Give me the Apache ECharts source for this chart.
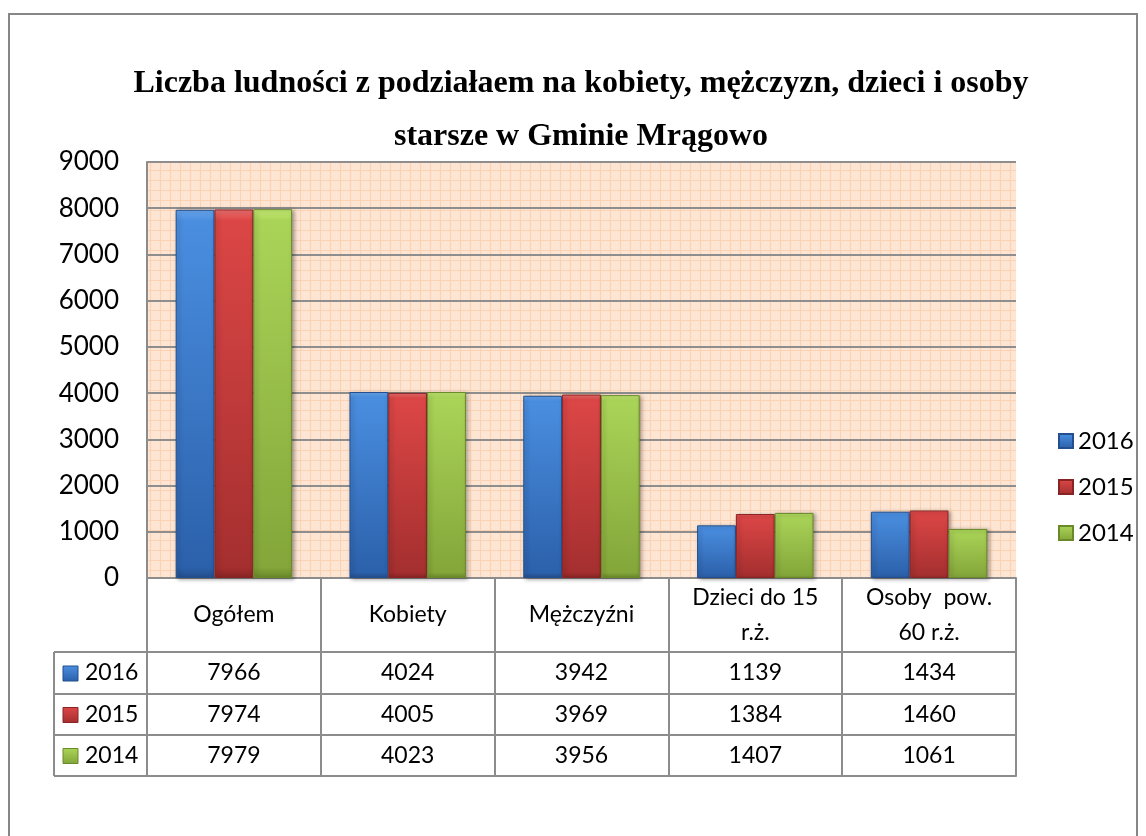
<!DOCTYPE html>
<html><head><meta charset="utf-8">
<script src="https://cdn.jsdelivr.net/npm/echarts@6/dist/echarts.min.js"></script>
<style>html,body{margin:0;padding:0;background:#fff}#c{width:1146px;height:836px}</style>
</head><body><div id="c"></div>
<script>
var categories = ['Ogółem', 'Kobiety', 'Mężczyźni', 'Dzieci do 15\nr.ż.', 'Osoby  pow.\n60 r.ż.'];
var seriesNames = ['2016', '2015', '2014'];
var values2016 = [7966, 4024, 3942, 1139, 1434];
var values2015 = [7974, 4005, 3969, 1384, 1460];
var values2014 = [7979, 4023, 3956, 1407, 1061];
var yTicks = { min: 0, max: 9000, interval: 1000 };

var seriesValues = [values2016, values2015, values2014];
var palette = [
  { top: '#4a8ee0', bot: '#2c61ab', edge: '#234f8e', light: '#6aa8f0' },
  { top: '#dc4646', bot: '#a52f2f', edge: '#8a2424', light: '#ee7070' },
  { top: '#aad458', bot: '#84a63a', edge: '#6a8a2a', light: '#c6ec74' }
];
var FONT = 'Lato';
var GL = 147, GR = 1016, GT = 162, GB = 578;
var HEADER = 74, ROWS = [42, 41, 41];
var LINE = '#8c8c8c';

// background pattern
var pc = document.createElement('canvas');
pc.width = 10; pc.height = 10;
var g = pc.getContext('2d');
g.fillStyle = '#fde4d1'; g.fillRect(0, 0, 10, 10);
g.fillStyle = '#fee9da';
for (var i = 0; i < 10; i += 2) for (var j = (i / 2) % 2; j < 10; j += 2) g.fillRect(i, j, 1, 1);
g.fillStyle = '#fbd3b4';
g.fillRect(0, 0, 10, 1); g.fillRect(0, 0, 1, 10);

function vgrad(p) {
  return new echarts.graphic.LinearGradient(0, 0, 0, 1, [
    { offset: 0, color: p.light }, { offset: 0.03, color: p.top }, { offset: 0.97, color: p.bot }, { offset: 1, color: p.edge }
  ]);
}

var chart = echarts.init(document.getElementById('c'), null, { renderer: 'canvas' });

var offsets = [HEADER, HEADER + ROWS[0], HEADER + ROWS[0] + ROWS[1]];
var xAxes = [{
  type: 'category', data: categories, gridIndex: 0, position: 'bottom',
  axisLine: { show: true, lineStyle: { color: LINE, width: 2 } },
  axisTick: { show: true, interval: 0, length: HEADER, lineStyle: { color: LINE, width: 2 } },
  axisLabel: { interval: 0, margin: HEADER / 2, verticalAlign: 'middle', color: '#000', fontFamily: FONT, fontSize: 23, lineHeight: 35 },
  splitLine: { show: false }
}];
seriesValues.forEach(function (vals, k) {
  xAxes.push({
    type: 'category', data: vals.map(String), gridIndex: 0, position: 'bottom', offset: offsets[k],
    axisLine: { show: true, lineStyle: { color: LINE, width: 2 } },
    axisTick: { show: true, interval: 0, length: ROWS[k], lineStyle: { color: LINE, width: 2 } },
    axisLabel: { interval: 0, margin: ROWS[k] / 2, verticalAlign: 'middle', color: '#000', fontFamily: FONT, fontSize: 23 },
    splitLine: { show: false }
  });
});
xAxes.push({
  type: 'category', data: categories, gridIndex: 0, position: 'bottom', offset: HEADER + ROWS[0] + ROWS[1] + ROWS[2],
  axisLine: { show: true, lineStyle: { color: LINE, width: 2 } },
  axisTick: { show: false }, axisLabel: { show: false }, splitLine: { show: false }
});

var graphics = [
  { type: 'rect', shape: { x: 9, y: 14, width: 1128, height: 900 }, style: { fill: 'none', stroke: '#878787', lineWidth: 2 }, silent: true }
];
var LC = 54;
var yy = GB + HEADER;
graphics.push({ type: 'line', shape: { x1: LC, y1: yy, x2: GL, y2: yy }, style: { stroke: LINE, lineWidth: 2 } });
seriesNames.forEach(function (nm, k) {
  var y0 = yy, y1 = yy + ROWS[k];
  graphics.push({ type: 'line', shape: { x1: LC, y1: y1, x2: GL, y2: y1 }, style: { stroke: LINE, lineWidth: 2 } });
  var cy = (y0 + y1) / 2;
  graphics.push({ type: 'rect', shape: { x: LC + 9, y: cy - 7, width: 15, height: 15 }, style: { fill: vgrad(palette[k]), stroke: palette[k].edge, lineWidth: 1 } });
  graphics.push({ type: 'text', style: { x: LC + 31, y: cy, text: nm, font: '23px ' + FONT, fill: '#000', textVerticalAlign: 'middle', textAlign: 'left' } });
  yy = y1;
});
graphics.push({ type: 'line', shape: { x1: LC, y1: GB + HEADER, x2: LC, y2: yy }, style: { stroke: LINE, lineWidth: 2 } });

var option = {
  animation: false,
  backgroundColor: '#fff',
  title: {
    text: 'Liczba ludności z podziałaem na kobiety, mężczyzn, dzieci i osoby\nstarsze w Gminie Mrągowo',
    left: 581, top: 57, textAlign: 'center', padding: 0,
    textStyle: { fontFamily: 'Liberation Serif', fontWeight: 'bold', fontSize: 32, lineHeight: 53, color: '#000' }
  },
  legend: {
    orient: 'vertical', left: 1058, top: 428, padding: 0, itemWidth: 14, itemHeight: 14, itemGap: 20,
    icon: 'rect',
    textStyle: { fontFamily: FONT, fontSize: 24, color: '#000', lineHeight: 26 },
    data: seriesNames
  },
  grid: {
    left: GL, top: GT, width: GR - GL, height: GB - GT, show: true,
    backgroundColor: { image: pc, repeat: 'repeat' }, borderWidth: 0
  },
  xAxis: xAxes,
  yAxis: {
    type: 'value', min: yTicks.min, max: yTicks.max, interval: yTicks.interval,
    axisLine: { show: true, lineStyle: { color: LINE, width: 2 } },
    axisTick: { show: false },
    axisLabel: { color: '#000', fontFamily: FONT, fontSize: 26, margin: 28, formatter: function (v) { return String(v); } },
    splitLine: { show: true, lineStyle: { color: '#8e8e8e', width: 2 } }
  },
  series: seriesValues.map(function (vals, k) {
    return {
      name: seriesNames[k], type: 'bar', data: vals, xAxisIndex: 0,
      barGap: '0%', barCategoryGap: '33%',
      itemStyle: {
        color: vgrad(palette[k]), borderColor: palette[k].edge, borderWidth: 1,
        shadowColor: 'rgba(0,0,0,0.35)', shadowBlur: 4, shadowOffsetX: 2, shadowOffsetY: 1
      }
    };
  }),
  graphic: graphics
};
chart.setOption(option);
</script></body></html>
